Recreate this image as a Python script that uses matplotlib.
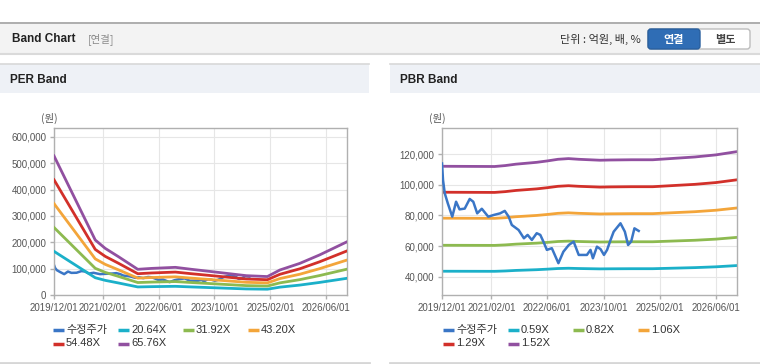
import matplotlib
matplotlib.use('Agg')
import matplotlib.pyplot as plt
import matplotlib.dates as mdates
import matplotlib.transforms as mtransforms
from matplotlib.patches import Rectangle, FancyBboxPatch
from matplotlib.lines import Line2D
from matplotlib.ticker import FuncFormatter
import pandas as pd
import numpy as np

W, H = 760, 364

# 수정주가 (adjusted price)
price_dates = ['2019-12-01', '2019-12-10', '2019-12-25', '2020-01-20', '2020-02-28', '2020-04-01',
               '2020-05-01', '2020-06-15', '2020-07-28', '2020-08-28', '2020-10-01', '2020-11-10',
               '2021-01-05', '2021-02-20', '2021-04-18', '2021-05-28', '2021-07-01', '2021-07-28',
               '2021-09-25', '2021-11-10', '2021-12-12', '2022-01-18', '2022-03-01', '2022-04-01',
               '2022-04-28', '2022-05-28', '2022-07-10', '2022-09-05', '2022-10-18', '2022-12-04',
               '2023-01-15', '2023-02-28', '2023-05-10', '2023-06-10', '2023-07-01', '2023-08-05',
               '2023-09-05', '2023-10-05', '2023-11-01', '2023-12-01', '2023-12-28', '2024-02-25',
               '2024-04-03', '2024-05-01', '2024-05-28', '2024-06-25', '2024-08-01']
price = [114000, 103000, 94500, 88000, 79200, 89000,
         84000, 84500, 90800, 89000, 81400, 84400,
         79200, 80300, 81400, 83000, 79200, 73800,
         70500, 65100, 67300, 64000, 68400, 67300,
         62900, 57500, 58600, 48800, 56300, 60700,
         62900, 54200, 54200, 57500, 52000, 59600,
         58000, 54200, 57500, 64000, 69400, 74900,
         69400, 60700, 63000, 71600, 69900]

# PER band : EPS x multiple
per_dates = ['2019-12-01', '2020-11-25', '2021-02-20', '2021-06-15', '2021-12-01', '2022-04-01',
             '2022-10-25', '2023-03-15', '2023-09-10', '2024-07-05', '2025-01-05', '2025-04-25',
             '2025-10-15', '2026-04-05', '2026-12-01']
eps = [8030, 3175, 2692, 2214, 1483, 1536, 1597, 1483, 1347, 1116, 1065, 1445, 1825, 2311, 3072]
per_mult = [20.64, 31.92, 43.20, 54.48, 65.76]

# PBR band : BPS x multiple
pbr_dates = ['2019-12-01', '2021-03-01', '2021-06-01', '2021-09-01', '2021-12-01', '2022-03-01',
             '2022-06-01', '2022-09-01', '2022-12-01', '2023-03-01', '2023-06-01', '2023-09-01',
             '2023-12-01', '2024-06-01', '2024-12-01', '2025-06-01', '2025-12-01', '2026-06-01',
             '2026-12-01']
bps = [73800, 73700, 74100, 74700, 75100, 75500, 76100, 76800, 77100, 76800, 76600, 76400,
       76500, 76600, 76600, 77200, 77800, 78700, 80100]
pbr_mult = [0.59, 0.82, 1.06, 1.29, 1.52]

xtick_dates = ['2019-12-01', '2021-02-01', '2022-06-01', '2023-10-01', '2025-02-01', '2026-06-01']

colors = ['#3a76c6', '#1bb0c9', '#8dba50', '#f3a53a', '#d2302a', '#9150a0']

CJK = ['Noto Sans CJK KR', 'DejaVu Sans']
LAT = ['Liberation Sans', 'Noto Sans CJK KR', 'DejaVu Sans']


def fx(px):
    return px / W


def fy(py):
    return 1 - py / H


fig = plt.figure(figsize=(W / 100, H / 100), dpi=100)
fig.patch.set_facecolor('white')
pix = mtransforms.IdentityTransform()

# top header bar
fig.add_artist(Rectangle((0, fy(53)), 1, 31 / H, transform=fig.transFigure, fc='#f3f3f3', ec='none'))
fig.add_artist(Line2D([0, 1], [fy(22.5)] * 2, color='#a8a8a8', lw=1.3))
fig.add_artist(Line2D([0, 1], [fy(53.5)] * 2, color='#dadada', lw=1.5))
fig.text(fx(12), fy(39), 'Band Chart', fontsize=8.5, fontweight='bold', color='#222222',
         va='center', family=LAT)
fig.text(fx(88), fy(39), '[연결]', fontsize=7.5, color='#8a8a8a', va='center', family=CJK)
fig.text(fx(641), fy(39), '단위 : 억원, 배, %', fontsize=8, color='#333333', va='center',
         ha='right', family=CJK)

# toggle buttons
fig.add_artist(FancyBboxPatch((648, H - 49), 102, 20, boxstyle='round,pad=0,rounding_size=3',
                              transform=pix, fc='white', ec='#bdbdbd', lw=1))
fig.add_artist(FancyBboxPatch((648, H - 49), 52, 20, boxstyle='round,pad=0,rounding_size=3',
                              transform=pix, fc='#2f6db5', ec='#2a609f', lw=1))
fig.text(fx(674), fy(39), '연결', fontsize=8, fontweight='bold', color='white',
         ha='center', va='center', family=CJK)
fig.text(fx(725), fy(39), '별도', fontsize=8, fontweight='bold', color='#444444',
         ha='center', va='center', family=CJK)

# panels
for x0, x1, title in [(0, 369, 'PER Band'), (390, 760, 'PBR Band')]:
    fig.add_artist(Rectangle((fx(x0), fy(93)), fx(x1 - x0), 29 / H, transform=fig.transFigure,
                             fc='#eef1f6', ec='none'))
    fig.add_artist(Line2D([fx(x0), fx(x1)], [fy(64)] * 2, color='#d8d8d8', lw=1.2))
    fig.add_artist(Line2D([fx(x0), fx(x1)], [fy(362.5)] * 2, color='#d6d6d6', lw=2))
    fig.text(fx(x0 + 10), fy(80), title, fontsize=8.5, fontweight='bold', color='#222222',
             va='center', family=LAT)


def setup_axes(ax, ylim, yticks):
    ax.set_xlim(pd.Timestamp('2019-12-01'), pd.Timestamp('2026-12-01'))
    ax.set_ylim(*ylim)
    ax.set_yticks(yticks)
    ax.yaxis.set_major_formatter(FuncFormatter(lambda v, p: f'{int(v):,}'))
    ax.set_xticks(pd.to_datetime(xtick_dates))
    ax.xaxis.set_major_formatter(mdates.DateFormatter('%Y/%m/%d'))
    ax.grid(True, color='#e6e6e6', lw=0.8)
    ax.set_axisbelow(True)
    for s in ax.spines.values():
        s.set_color('#b0b0b0')
        s.set_linewidth(1)
    ax.tick_params(length=3, width=1, color='#b0b0b0', labelsize=7, labelcolor='#555555', pad=2.5)
    for lab in ax.get_xticklabels() + ax.get_yticklabels():
        lab.set_family(LAT)


def legend(x0, labels):
    for i, lab in enumerate(labels):
        x = x0 + (i % 4) * 65
        y = 330 + (i // 4) * 13.5
        fig.add_artist(Line2D([fx(x), fx(x + 10.5)], [fy(y)] * 2, color=colors[i], lw=2.5,
                              solid_capstyle='butt'))
        fig.text(fx(x + 13), fy(y), lab, fontsize=8, color='#333333', va='center', family=LAT)


pdates = pd.to_datetime(price_dates)

# PER Band
ax1 = fig.add_axes([fx(54), fy(295), fx(293), 167 / H])
ax1.plot(pdates, price, color=colors[0], lw=1.8, zorder=2)
edates = pd.to_datetime(per_dates)
for i, m in enumerate(per_mult):
    ax1.plot(edates, np.array(eps) * m, color=colors[i + 1], lw=2, zorder=3)
setup_axes(ax1, (0, 634000), range(0, 600001, 100000))
fig.text(fx(49), fy(118), '(원)', fontsize=7.5, color='#555555', ha='center', va='center', family=CJK)
legend(53, ['수정주가'] + [f'{m:.2f}X' for m in per_mult])

# PBR Band
ax2 = fig.add_axes([fx(442), fy(295), fx(295), 167 / H])
bdates = pd.to_datetime(pbr_dates)
for i, m in enumerate(pbr_mult):
    ax2.plot(bdates, np.array(bps) * m, color=colors[i + 1], lw=2, zorder=2)
ax2.plot(pdates, price, color=colors[0], lw=1.8, zorder=3)
setup_axes(ax2, (28000, 137200), range(40000, 120001, 20000))
fig.text(fx(437), fy(118), '(원)', fontsize=7.5, color='#555555', ha='center', va='center', family=CJK)
legend(443, ['수정주가'] + [f'{m:.2f}X' for m in pbr_mult])

fig.savefig('out.png', dpi=100)
